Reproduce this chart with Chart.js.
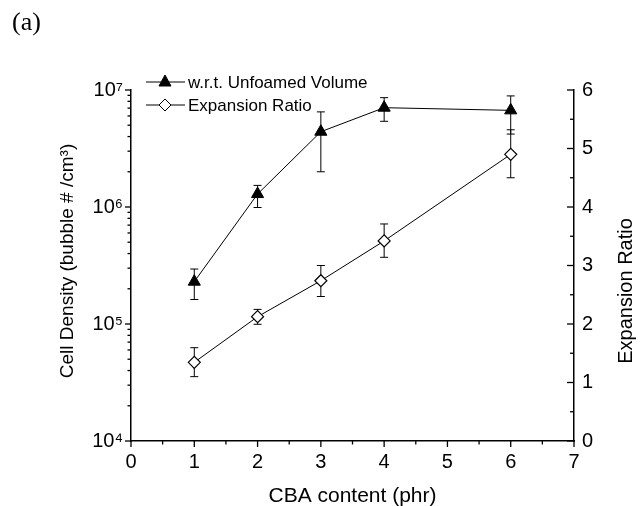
<!DOCTYPE html>
<html>
<head>
<meta charset="utf-8">
<script src="https://cdn.jsdelivr.net/npm/chart.js@4.4.1/dist/chart.umd.min.js"></script>
<style>
  body { margin: 0; background: #fff; }
  #wrap { width: 642px; height: 506px; }
</style>
</head>
<body>
<div id="wrap"><canvas id="chart" width="642" height="506"></canvas></div>
<script>
// data
const cba = [1, 2, 3, 4, 6];
const cellDensity = [2.3e5, 1.29e6, 4.4e6, 7.06e6, 6.7e6];
const cellDensityHi = [2.95e5, 1.53e6, 6.5e6, 8.6e6, 8.9e6];
const cellDensityLo = [1.62e5, 0.99e6, 2.0e6, 5.4e6, 4.2e6];
const expRatio = [1.345, 2.125, 2.74, 3.42, 4.90];
const expRatioHi = [1.595, 2.25, 3.0, 3.71, 5.32];
const expRatioLo = [1.10, 1.995, 2.47, 3.14, 4.50];

const xTicks = [0, 1, 2, 3, 4, 5, 6, 7];
const rightTicks = [0, 1, 2, 3, 4, 5, 6];
const sup = { 4: "⁴", 5: "⁵", 6: "⁶", 7: "⁷" };

const fontName = '"Liberation Sans", Arial, sans-serif';

function errorBars(chart, idx, lo, hi) {
    const ctx = chart.ctx;
    const meta = chart.getDatasetMeta(idx);
    const ys = chart.scales[meta.yAxisID];
    const xs = chart.scales.x;
    ctx.save();
    ctx.strokeStyle = "#000";
    ctx.lineWidth = 1;
    cba.forEach((v, i) => {
        const x = xs.getPixelForValue(v);
        const y1 = ys.getPixelForValue(lo[i]);
        const y2 = ys.getPixelForValue(hi[i]);
        ctx.beginPath();
        ctx.moveTo(x, y1); ctx.lineTo(x, y2);
        ctx.moveTo(x - 4, y1); ctx.lineTo(x + 4, y1);
        ctx.moveTo(x - 4, y2); ctx.lineTo(x + 4, y2);
        ctx.stroke();
    });
    ctx.restore();
}

function tick(ctx, x1, y1, x2, y2) {
    ctx.beginPath();
    ctx.moveTo(x1, y1);
    ctx.lineTo(x2, y2);
    ctx.stroke();
}

const decor = {
    id: "decor",
    beforeDatasetsDraw(chart) {
        errorBars(chart, 0, cellDensityLo, cellDensityHi);
        errorBars(chart, 1, expRatioLo, expRatioHi);
    },
    afterDraw(chart) {
        const ctx = chart.ctx;
        const { x, y, y2 } = chart.scales;
        const area = chart.chartArea;
        ctx.save();
        ctx.strokeStyle = "#000";
        ctx.lineWidth = 1.3;

        // x ticks (outward), minor at halves
        for (let v = 0; v <= 7; v += 0.5) {
            const px = x.getPixelForValue(v);
            tick(ctx, px, area.bottom, px, area.bottom + (v % 1 === 0 ? 6 : 3.5));
        }
        // left log ticks (outward)
        for (let e = 4; e <= 6; e++) {
            for (let m = 1; m <= 9; m++) {
                const py = y.getPixelForValue(m * Math.pow(10, e));
                tick(ctx, area.left - (m === 1 ? 6 : 3.5), py, area.left, py);
            }
        }
        const top = y.getPixelForValue(1e7);
        tick(ctx, area.left - 6, top, area.left, top);
        // right ticks (inward)
        for (let v = 0; v <= 6; v += 0.5) {
            const py = y2.getPixelForValue(v);
            tick(ctx, area.right - (v % 1 === 0 ? 7 : 4), py, area.right, py);
        }

        // axis titles
        ctx.fillStyle = "#000";
        ctx.textAlign = "center";
        ctx.textBaseline = "alphabetic";
        ctx.font = "21px " + fontName;
        ctx.fillText("CBA content (phr)", (area.left + area.right) / 2, 501.5);

        ctx.font = "19px " + fontName;
        ctx.save();
        ctx.translate(73, 261);
        ctx.rotate(-Math.PI / 2);
        ctx.fillText("Cell Density (bubble # /cm³)", 0, 0);
        ctx.restore();

        ctx.font = "20px " + fontName;
        ctx.save();
        ctx.translate(631.5, 291);
        ctx.rotate(-Math.PI / 2);
        ctx.fillText("Expansion Ratio", 0, 0);
        ctx.restore();

        // panel label
        ctx.textAlign = "left";
        ctx.font = '26px "Liberation Serif", "Times New Roman", serif';
        ctx.fillText("(a)", 12, 30);

        // legend
        ctx.font = "17px " + fontName;
        ctx.textBaseline = "middle";
        ctx.lineWidth = 1;
        const rows = [82, 105];
        chart.data.datasets.forEach((ds, i) => {
            const ry = rows[i];
            tick(ctx, 146, ry, 185, ry);
            const cx = 165;
            ctx.beginPath();
            if (ds.pointStyle === "triangle") {
                ctx.moveTo(cx, ry - 7);
                ctx.lineTo(cx + 6, ry + 4);
                ctx.lineTo(cx - 6, ry + 4);
            } else {
                ctx.moveTo(cx, ry - 6);
                ctx.lineTo(cx + 6, ry);
                ctx.lineTo(cx, ry + 6);
                ctx.lineTo(cx - 6, ry);
            }
            ctx.closePath();
            ctx.fillStyle = ds.pointBackgroundColor;
            ctx.fill();
            ctx.stroke();
            ctx.fillStyle = "#000";
            ctx.fillText(ds.label, 188, ry + 1);
        });
        ctx.restore();
    }
};

new Chart(document.getElementById("chart"), {
    type: "line",
    data: {
        datasets: [
            {
                label: "w.r.t. Unfoamed Volume",
                data: cba.map((v, i) => ({ x: v, y: cellDensity[i] })),
                yAxisID: "y",
                borderColor: "#000",
                borderWidth: 1,
                pointStyle: "triangle",
                pointRadius: 7,
                pointBackgroundColor: "#000",
                pointBorderColor: "#000",
                pointBorderWidth: 1
            },
            {
                label: "Expansion Ratio",
                data: cba.map((v, i) => ({ x: v, y: expRatio[i] })),
                yAxisID: "y2",
                borderColor: "#000",
                borderWidth: 1,
                pointStyle: "rectRot",
                pointRadius: 6,
                pointBackgroundColor: "#fff",
                pointBorderColor: "#000",
                pointBorderWidth: 1.2
            }
        ]
    },
    options: {
        responsive: false,
        animation: false,
        devicePixelRatio: 1,
        layout: { padding: { top: 90, left: 0, right: 0, bottom: 0 } },
        plugins: {
            legend: { display: false },
            tooltip: { enabled: false }
        },
        scales: {
            x: {
                type: "linear",
                min: 0,
                max: 7,
                afterBuildTicks: s => { s.ticks = xTicks.map(v => ({ value: v })); },
                afterFit: s => { s.height = 65; },
                grid: { display: false, drawTicks: false },
                border: { display: true, color: "#000", width: 1.5 },
                ticks: { color: "#000", padding: 9, font: { family: fontName, size: 20 } }
            },
            y: {
                type: "logarithmic",
                position: "left",
                min: 1e4,
                max: 1e7,
                afterFit: s => { s.width = 131; },
                grid: { display: false, drawTicks: false },
                border: { display: true, color: "#000", width: 1.5 },
                ticks: {
                    color: "#000",
                    padding: 8,
                    autoSkip: false,
                    font: { family: fontName, size: 20 },
                    callback: v => {
                        const e = Math.log10(v);
                        return Math.abs(e - Math.round(e)) < 1e-9 ? "10" + sup[Math.round(e)] : "";
                    }
                }
            },
            y2: {
                type: "linear",
                position: "right",
                min: 0,
                max: 6,
                afterBuildTicks: s => { s.ticks = rightTicks.map(v => ({ value: v })); },
                afterFit: s => { s.width = 68; },
                grid: { display: false, drawTicks: false },
                border: { display: true, color: "#000", width: 1.5 },
                ticks: { color: "#000", padding: 8, font: { family: fontName, size: 20 } }
            }
        }
    },
    plugins: [decor]
});
</script>
</body>
</html>
